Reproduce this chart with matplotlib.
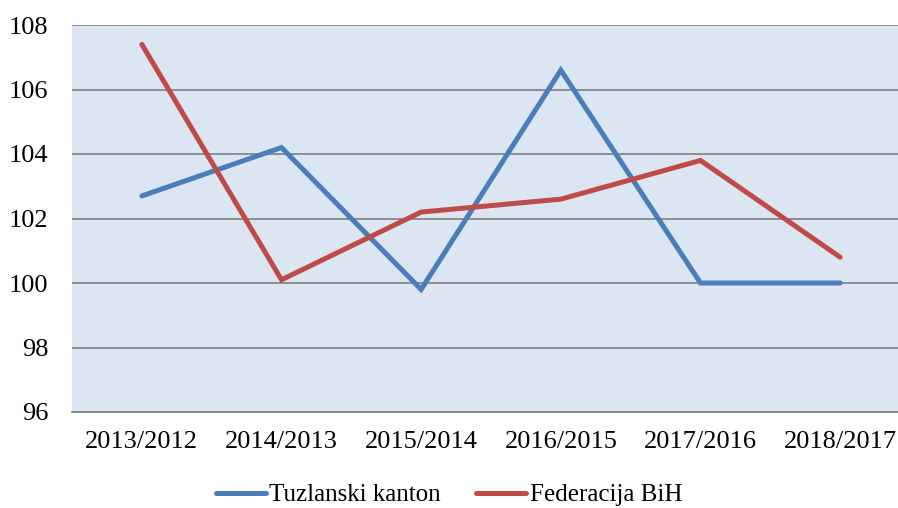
import matplotlib.pyplot as plt

periods = ["2013/2012", "2014/2013", "2015/2014", "2016/2015", "2017/2016", "2018/2017"]
tuzlanski = [102.7, 104.2, 99.8, 106.6, 100.0, 100.0]
federacija = [107.4, 100.1, 102.2, 102.6, 103.8, 100.8]
y_ticks = [96, 98, 100, 102, 104, 106, 108]

plt.rcParams['font.family'] = ['Liberation Serif', 'DejaVu Serif']

fig = plt.figure(figsize=(8.98, 5.08), dpi=100)
# plot area runs a little past the right edge, as in the original
ax = fig.add_axes([72 / 898, 1 - 412 / 508, 838 / 898, 387 / 508])
ax.set_facecolor('#DCE6F2')

x = range(len(periods))
ax.plot(x, tuzlanski, color='#4A7EBB', lw=3.6, solid_capstyle='round',
        solid_joinstyle='miter', label='Tuzlanski kanton', zorder=3)
ax.plot(x, federacija, color='#BE4B48', lw=3.6, solid_capstyle='round',
        solid_joinstyle='miter', label='Federacija BiH', zorder=3)

ax.set_xlim(-0.5, len(periods) - 0.5)
ax.set_ylim(96, 108)
ax.set_yticks(y_ticks)
ax.set_xticks(list(x))
ax.set_xticklabels(periods)
ax.yaxis.grid(True, color='#868686', lw=1.3)
ax.set_axisbelow(True)
for side in ['top', 'left', 'right']:
    ax.spines[side].set_visible(False)
ax.spines['bottom'].set_color('#868686')
ax.spines['bottom'].set_linewidth(1.3)
ax.tick_params(axis='both', length=0, labelsize=19)
ax.tick_params(axis='y', pad=17)
ax.tick_params(axis='x', pad=14)

fig.legend(loc='center', bbox_to_anchor=(0.5, 13 / 508), ncol=2, frameon=False,
           fontsize=18, handlelength=2.0, handletextpad=0.15, columnspacing=1.4,
           borderpad=0, borderaxespad=0)

fig.savefig('out.png', dpi=100)
